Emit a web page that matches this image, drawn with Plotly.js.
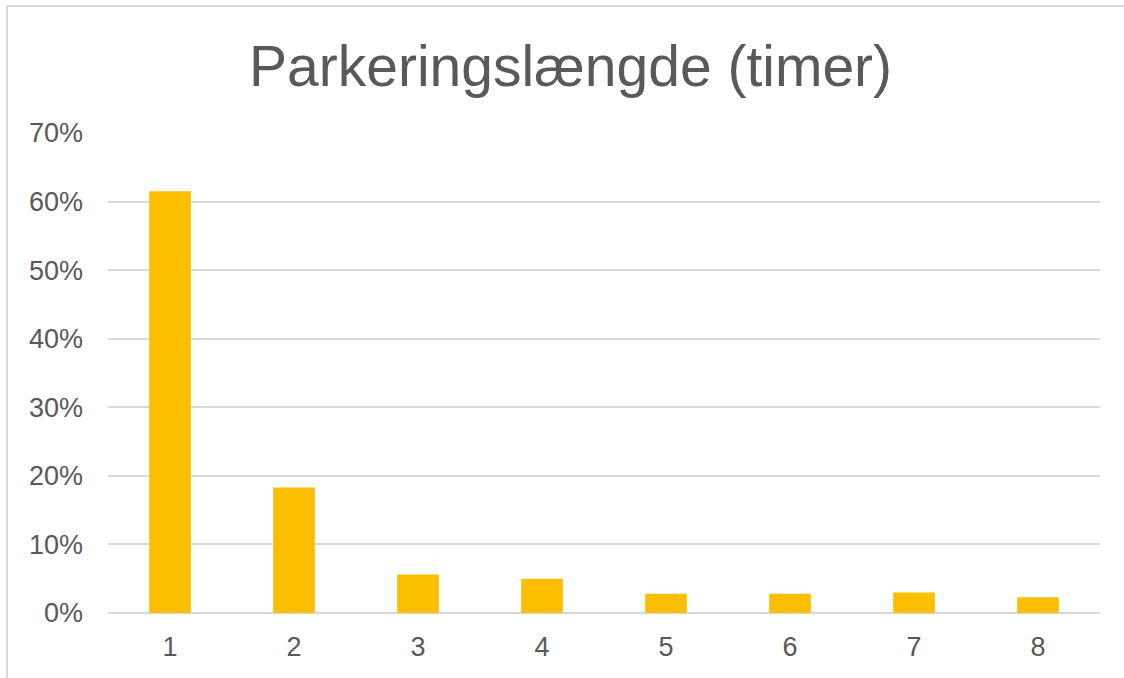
<!DOCTYPE html>
<html>
<head>
<meta charset="utf-8">
<script src="https://cdn.plot.ly/plotly-3.0.1.min.js"></script>
<style>
  html, body { margin: 0; padding: 0; background: #ffffff; }
  #frame { position: absolute; left: 0; top: 0; width: 1124px; height: 678px; overflow: hidden; }
  #border { position: absolute; left: 6px; top: 5px; width: 1130px; height: 690px;
            border-left: 2px solid #d9d9d9; border-top: 2px solid #d9d9d9; pointer-events: none; }
  #chart { position: absolute; left: 0; top: 0; width: 1124px; height: 678px; }
</style>
</head>
<body>
<div id="frame">
  <div id="chart"></div>
  <div id="border"></div>
</div>
<script>
const categories = ["1", "2", "3", "4", "5", "6", "7", "8"];
const shares = [0.615, 0.183, 0.056, 0.050, 0.028, 0.028, 0.030, 0.023];
const yTickValues = [0, 0.1, 0.2, 0.3, 0.4, 0.5, 0.6, 0.7];
const titleText = "Parkeringslængde (timer)";

const textColor = "#595959";
const fontFamily = "'Liberation Sans', Arial, sans-serif";

const data = [{
  type: "bar",
  x: categories,
  y: shares,
  marker: { color: "#FCBE00", line: { width: 0 } },
  hoverinfo: "x+y"
}];

const layout = {
  width: 1124,
  height: 678,
  margin: { l: 108, r: 24, t: 133, b: 64.5, pad: 0 },
  paper_bgcolor: "#ffffff",
  plot_bgcolor: "#ffffff",
  font: { family: fontFamily, color: textColor, size: 27 },
  title: {
    text: titleText,
    font: { family: fontFamily, size: 57, color: textColor },
    x: 0.5076, xref: "container", xanchor: "center",
    y: 0.902, yref: "container", yanchor: "middle"
  },
  bargap: 0.664,
  showlegend: false,
  xaxis: {
    type: "category",
    showgrid: false,
    zeroline: false,
    showline: false,
    ticks: "",
    tickfont: { family: fontFamily, size: 27, color: textColor },
    ticklabelstandoff: 15,
    fixedrange: true
  },
  yaxis: {
    range: [0, 0.7],
    tickvals: yTickValues,
    tickformat: ".0%",
    showgrid: true,
    gridcolor: "#d9d9d9",
    gridwidth: 2,
    zeroline: true,
    zerolinecolor: "#d9d9d9",
    zerolinewidth: 2,
    showline: false,
    ticks: "",
    tickfont: { family: fontFamily, size: 27, color: textColor },
    ticklabelstandoff: 24,
    fixedrange: true
  }
};

Plotly.newPlot("chart", data, layout, { displayModeBar: false, staticPlot: true });
</script>
</body>
</html>
